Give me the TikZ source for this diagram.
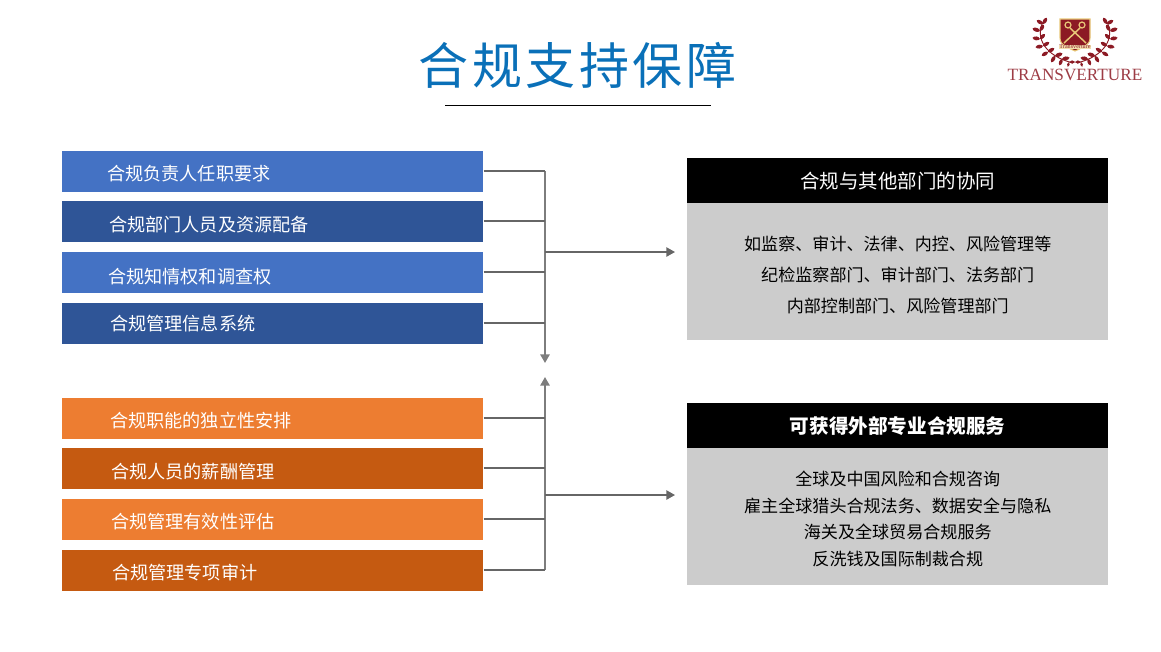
\documentclass[tikz,border=0pt]{standalone}
\usepackage{fontspec}
\newfontfamily\cjk{Noto Sans CJK SC}
\newfontfamily\cjktitle[LetterSpace=7]{Noto Sans CJK SC}
\newfontfamily\logofont{Liberation Serif}
\usetikzlibrary{arrows.meta}
\usetikzlibrary{positioning}
\definecolor{barblue}{HTML}{4472C4}
\definecolor{bardarkblue}{HTML}{2F5597}
\definecolor{barorange}{HTML}{ED7D31}
\definecolor{bardarkorange}{HTML}{C55A11}
\definecolor{boxgray}{HTML}{CCCCCC}
\definecolor{titleblue}{HTML}{0A70B8}
\definecolor{logored}{HTML}{8C1A24}
\definecolor{logogold}{HTML}{E8C878}
\definecolor{linegray}{HTML}{666666}
\tikzset{
  bar/.style={fill=#1, inner sep=0pt, anchor=north west, minimum width=315.75pt, minimum height=30.2pt},
  barlabel/.style={anchor=west, inner sep=0pt, text=white, font=\cjk\fontsize{13.6pt}{16pt}\selectfont},
  headbox/.style={fill=black, text=white, inner sep=0pt, anchor=north west, minimum width=315.75pt, minimum height=#1},
  bodybox/.style={fill=boxgray, text=black, inner sep=0pt, align=center, anchor=north west, minimum width=315.75pt, minimum height=#1},
  branch/.style={draw=linegray, line width=1.2pt},
  flow/.style={-{Triangle[length=6.5pt,width=7pt]}, draw=linegray, line width=1.1pt},
  trunk/.style={flow, draw=linegray!85, line width=1.35pt},
  leaf/.style={fill=logored, draw=none}
}
\begin{document}
\begin{tikzpicture}[x=0.75pt, y=-0.75pt]
    \useasboundingbox (0,0) rectangle (1161,651);

    % title
    \node[inner sep=0pt, text=titleblue, font=\cjktitle\fontsize{37.5pt}{40pt}\selectfont] (title) at (577.5,65) {合规支持保障};
    \coordinate (ruleL) at (445,105);
    \coordinate (ruleR) at (711,105);
    \draw[line width=0.7pt] (ruleL) -- (ruleR);

    % logo
    \foreach \s in {1,-1} {
      \begin{scope}[shift={(1075,0)}, xscale=\s]
        \foreach \px/\py/\oa/\ob/\ia/\ib in {-32/24/-5/-3/3/-5, -35/31/-6/-2/3/-5, -35/39/-6/-1/4/-4, -32/46/-6/1/5/-3, -27/52/-5/3/5/-3, -20/56/-3/5/6/-2, -13/59/-2/5/6/-1, -6/62/-1/4/5/0} {
          \fill[leaf] (\px,\py) to[bend left=60] ++(1.25*\oa,1.25*\ob) to[bend left=60] (\px,\py);
          \fill[leaf] (\px,\py) to[bend left=60] ++(1.25*\ia,1.25*\ib) to[bend left=60] (\px,\py);
        }
        \draw[logored, line width=0.7pt] (-32,22) .. controls (-40,38) and (-30,56) .. (-2,63);
      \end{scope}
    }
    \draw[logogold, fill=logored, line width=0.8pt] (1060,19) -- (1090,19) -- (1090,38) .. controls (1090,46) and (1081,48) .. (1075,51) .. controls (1069,48) and (1060,46) .. (1060,38) -- cycle;
    \draw[logogold, line width=1.1pt] (1070,28) -- (1086,43) (1080,28) -- (1064,43);
    \draw[logogold, line width=0.9pt] (1068,25) circle (3) (1082,25) circle (3);
    \node[fill=logogold!60, inner xsep=0.5pt, inner ysep=0.3pt, text=logored, font=\logofont\fontsize{4.6pt}{5pt}\selectfont] (ribbon) at (1075,47) {Transverture};
    \node[inner sep=0pt, text=logored!85, font=\logofont\fontsize{12.9pt}{14pt}\selectfont] (logotext) at (1075,75) {TRANSVERTURE};

    % upper bars
    \node[bar=barblue] (bar1) at (62,151) {};
    \node[bar=bardarkblue] (bar2) at (62,201) {};
    \node[bar=barblue] (bar3) at (62,252) {};
    \node[bar=bardarkblue] (bar4) at (62,303) {};
    \node[barlabel] (label1) at (107,174) {合规负责人任职要求};
    \node[barlabel] (label2) at (109,225) {合规部门人员及资源配备};
    \node[barlabel] (label3) at (108,277) {合规知情权和调查权};
    \node[barlabel] (label4) at (110,324) {合规管理信息系统};

    % lower bars
    \node[bar=barorange] (bar5) at (62,398) {};
    \node[bar=bardarkorange] (bar6) at (62,448) {};
    \node[bar=barorange] (bar7) at (62,499) {};
    \node[bar=bardarkorange] (bar8) at (62,550) {};
    \node[barlabel] (label5) at (110,421) {合规职能的独立性安排};
    \node[barlabel] (label6) at (111,472) {合规人员的薪酬管理};
    \node[barlabel] (label7) at (111,522) {合规管理有效性评估};
    \node[barlabel] (label8) at (112,573) {合规管理专项审计};

    % right boxes
    \node[headbox=34pt, font=\cjk\fontsize{14.6pt}{18pt}\selectfont] (head1) at (687,158) {合规与其他部门的协同};
    \node[bodybox=102.75pt, font=\cjk\fontsize{12.8pt}{23.2pt}\selectfont] (body1) at (687,203) {\rule{0pt}{15pt}如监察、审计、法律、内控、风险管理等\\纪检监察部门、审计部门、法务部门\\内部控制部门、风险管理部门};
    \node[headbox=34pt, font=\cjk\bfseries\fontsize{14.7pt}{18pt}\selectfont] (head2) at (687,403) {可获得外部专业合规服务};
    \node[bodybox=102.75pt, font=\cjk\fontsize{12.8pt}{20pt}\selectfont] (body2) at (687,448) {\rule{0pt}{14pt}全球及中国风险和合规咨询\\雇主全球猎头合规法务、数据安全与隐私\\海关及全球贸易合规服务\\反洗钱及国际制裁合规};

    % connectors
    \coordinate (trunk1) at (545,171);
    \coordinate (end1) at (545,363);
    \coordinate (trunk2) at (545,570);
    \coordinate (end2) at (545,377);
    \coordinate (out1) at (545,252);
    \coordinate (tip1) at (675,252);
    \coordinate (out2) at (545,495);
    \coordinate (tip2) at (675,495);

    \draw[trunk] (trunk1) -- (end1);
    \draw[trunk] (trunk2) -- (end2);
    \draw[flow] (out1) -- (tip1);
    \draw[flow] (out2) -- (tip2);
    \foreach \n in {1,2,3,4} \draw[branch] ([yshift=0.25pt]bar\n.east) -- ([yshift=0.25pt]bar\n.east -| trunk1);
    \foreach \n in {5,6,7,8} \draw[branch] ([yshift=0.25pt]bar\n.east) -- ([yshift=0.25pt]bar\n.east -| trunk2);
\end{tikzpicture}
\end{document}
